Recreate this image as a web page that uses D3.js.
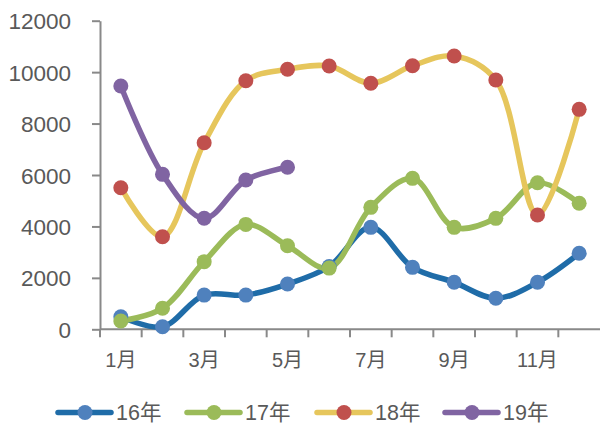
<!DOCTYPE html>
<html><head><meta charset="utf-8">
<script src="https://cdn.jsdelivr.net/npm/d3@7"></script>
<style>
html,body{margin:0;padding:0;background:#fff;}
svg text{font-family:"Liberation Sans",Arial,"Noto Sans CJK SC",sans-serif;fill:#595959;}
</style></head>
<body>
<svg id="c" width="601" height="425"></svg>
<script>
const months = ["1月","2月","3月","4月","5月","6月","7月","8月","9月","10月","11月","12月"];
const shownMonthLabels = ["1月","3月","5月","7月","9月","11月"];
const yTicks = [0,2000,4000,6000,8000,10000,12000];
const seriesNames = ["16年","17年","18年","19年"];
const s16 = [490,100,1330,1330,1760,2440,3965,2410,1827,1205,1827,2955];
const s17 = [323,816,2630,4080,3250,2380,4743,5870,3965,4315,5700,4900];
const s18 = [5505,3600,7255,9666,10110,10237,9565,10250,10626,9693,4444,8553];
const s19 = [9460,6026,4316,5805,6299];

const lineColors = ["#1f6ca8","#9bbb59","#e6c65c","#8064a2"];
const markerColors = ["#4f81bd","#9bbb59","#c0504d","#8064a2"];
const allSeries = [s16,s17,s18,s19];

const svg = d3.select("#c");
const x = d3.scaleBand().domain(months).range([100,600]);
const y = d3.scaleLinear().domain([0,12000]).range([329.3,20.7]);

// y axis
const yAxis = svg.append("g").attr("transform","translate(100,0)")
  .call(d3.axisLeft(y).tickValues(yTicks).tickFormat(d3.format("d")).tickSize(8).tickSizeOuter(0).tickPadding(21));
yAxis.select(".domain").attr("stroke","#898989").attr("stroke-width",2);
yAxis.selectAll(".tick line").attr("stroke","#898989").attr("stroke-width",2);
yAxis.selectAll(".tick text").attr("font-size",22.5).attr("font-family",null).attr("dy","0.36em").style("fill","#595959");

// x axis
const xg = svg.append("g").attr("transform",`translate(0,${y(0)})`);
xg.append("line").attr("x1",100).attr("x2",600).attr("y1",0).attr("y2",0)
  .attr("stroke","#898989").attr("stroke-width",2);
const bounds = months.map(m=>x(m));
xg.selectAll("line.tk").data(bounds).join("line").attr("class","tk")
  .attr("x1",d=>d).attr("x2",d=>d).attr("y1",0).attr("y2",8)
  .attr("stroke","#898989").attr("stroke-width",2);
xg.selectAll("text").data(shownMonthLabels).join("text")
  .attr("x",d=>x(d)+x.bandwidth()/2).attr("y",38)
  .attr("text-anchor","middle").attr("font-size",20).text(d=>d);

const line = d3.line()
  .x((d,i)=>x(months[i])+x.bandwidth()/2)
  .y(d=>y(d))
  .curve(d3.curveCatmullRom.alpha(0.5));

allSeries.forEach((s,k)=>{
  svg.append("path").attr("d",line(s)).attr("fill","none")
    .attr("stroke",lineColors[k]).attr("stroke-width",5.5)
    .attr("stroke-linejoin","round").attr("stroke-linecap","round");
});
allSeries.forEach((s,k)=>{
  svg.append("g").selectAll("circle").data(s).join("circle")
    .attr("cx",(d,i)=>x(months[i])+x.bandwidth()/2).attr("cy",d=>y(d))
    .attr("r",7.5).attr("fill",markerColors[k]);
});

// legend
const legX = [58,187,317,445];
const legY = 412.5;
seriesNames.forEach((n,k)=>{
  svg.append("line").attr("x1",legX[k]).attr("x2",legX[k]+53).attr("y1",legY).attr("y2",legY)
    .attr("stroke",lineColors[k]).attr("stroke-width",5.5).attr("stroke-linecap","round");
  svg.append("circle").attr("cx",legX[k]+27).attr("cy",legY).attr("r",7.5).attr("fill",markerColors[k]);
  svg.append("text").attr("x",legX[k]+58).attr("y",legY).attr("dy","0.36em").attr("font-size",21.5).text(n);
});
</script>
</body></html>
